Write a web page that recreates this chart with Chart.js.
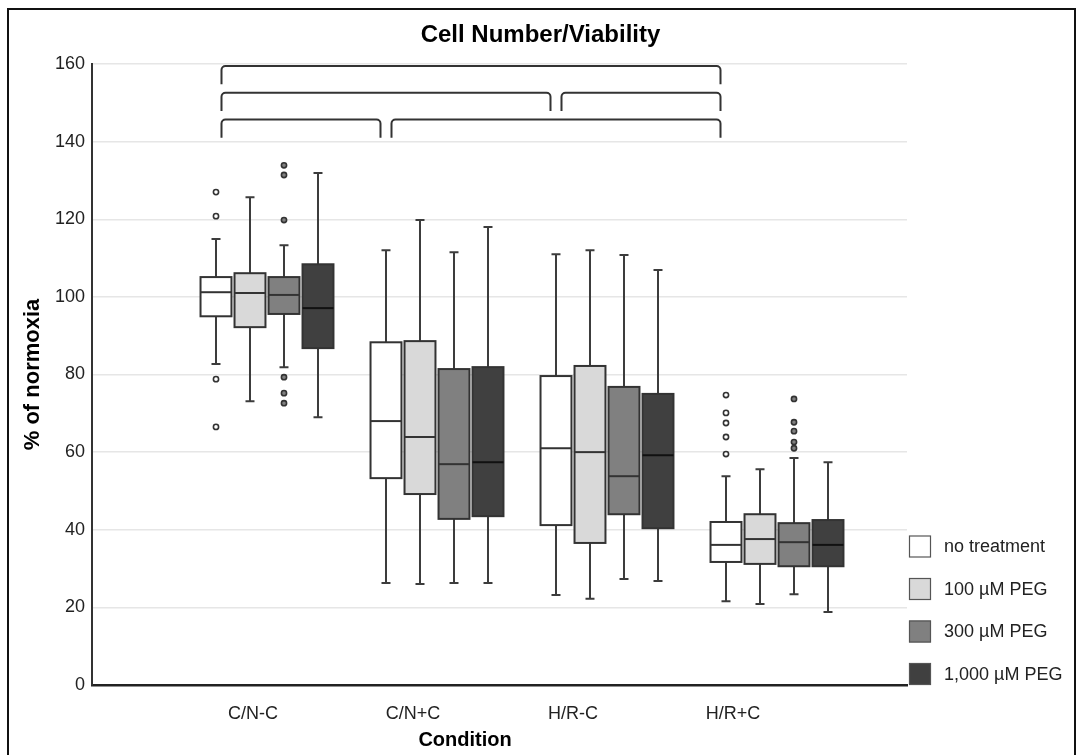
<!DOCTYPE html>
<html lang="en">
<head>
<meta charset="utf-8"/>
<title>Cell Number/Viability</title>
<script src="https://cdn.jsdelivr.net/npm/chart.js"></script>
<style>
  body { margin: 0; background: #fff; font-family: 'Liberation Sans', Arial, sans-serif; }
  .frame { position: absolute; left: 7px; top: 8px; width: 1065px; height: 760px; border: 2px solid #111; }
  #wrap { position: absolute; left: 0; top: 0; width: 1081px; height: 755px; }
</style>
</head>
<body>
<div class="frame"></div>
<div id="wrap"><canvas id="chart"></canvas></div>
<script>
const groups = ['C/N-C', 'C/N+C', 'H/R-C', 'H/R+C'];
const series = ['no treatment', '100 µM PEG', '300 µM PEG', '1,000 µM PEG'];
const fills = ['#ffffff', '#d9d9d9', '#808080', '#404040'];

// [series][group]
const whiskerLow = [
  [82.7, 26.3, 23.2, 21.6],
  [73.1, 26.0, 22.2, 20.9],
  [81.9, 26.3, 27.3, 23.4],
  [69.0, 26.3, 26.8, 18.8]
];
const q1 = [
  [95.0, 53.3, 41.2, 31.7],
  [92.2, 49.2, 36.6, 31.2],
  [95.6, 42.8, 44.0, 30.6],
  [86.8, 43.5, 40.4, 30.6]
];
const median = [
  [101.2, 68.0, 61.0, 36.1],
  [101.0, 63.9, 60.0, 37.6],
  [100.5, 56.9, 53.8, 36.8],
  [97.1, 57.4, 59.2, 36.1]
];
const q3 = [
  [105.1, 88.3, 79.6, 42.0],
  [106.1, 88.6, 82.2, 44.0],
  [105.1, 81.4, 76.8, 41.7],
  [108.4, 81.9, 75.0, 42.5]
];
const whiskerHigh = [
  [114.9, 112.0, 111.0, 53.8],
  [125.7, 119.8, 112.0, 55.6],
  [113.3, 111.5, 110.8, 58.5],
  [131.9, 118.0, 106.9, 57.4]
];
// outliers: [group index, value]
const outliers = [
  [[0, 127.0], [0, 120.8], [0, 78.8], [0, 66.5], [3, 74.7], [3, 70.1], [3, 67.5], [3, 63.9], [3, 59.5]],
  [],
  [[0, 133.9], [0, 131.4], [0, 119.8], [0, 79.3], [0, 75.2], [0, 72.6], [3, 73.7], [3, 67.7], [3, 65.4], [3, 62.6], [3, 61.0]],
  []
];
// significance brackets between "no treatment" boxes: [from group, to group, row]
const brackets = [[0, 3, 0], [0, 2, 1], [2, 3, 1], [0, 1, 2], [1, 3, 2]];
const bracketTops = [159.5, 152.6, 145.7];
const bracketDrop = 4.7;

// category labels sit a little left of the box clusters in the original
const labelAt = [0.918, 1.859, 2.800, 3.741];
const xTitleAt = 2.165;

const slot = 0.2;      // distance between boxes within a group
const boxHalf = 0.091; // half box width
const posOf = (g, s) => g + 1 + (s - 1.5) * slot;
const FONT = '"Liberation Sans", Arial, sans-serif';

const boxPlot = {
  id: 'boxPlot',
  beforeDatasetsDraw(chart) {
    const {ctx, scales: {x, y}} = chart;
    ctx.save();
    series.forEach((name, s) => {
      groups.forEach((gName, g) => {
        const cx = x.getPixelForValue(posOf(g, s));
        const half = x.getPixelForValue(posOf(g, s) + boxHalf) - cx;
        const cap = 4.5;
        const yLo = y.getPixelForValue(whiskerLow[s][g]);
        const yHi = y.getPixelForValue(whiskerHigh[s][g]);
        const yQ1 = y.getPixelForValue(q1[s][g]);
        const yQ3 = y.getPixelForValue(q3[s][g]);
        const yMed = y.getPixelForValue(median[s][g]);
        ctx.strokeStyle = '#3c3c3c';
        ctx.lineWidth = 2;
        ctx.beginPath();
        ctx.moveTo(cx, yHi); ctx.lineTo(cx, yQ3);
        ctx.moveTo(cx, yQ1); ctx.lineTo(cx, yLo);
        ctx.moveTo(cx - cap, yHi); ctx.lineTo(cx + cap, yHi);
        ctx.moveTo(cx - cap, yLo); ctx.lineTo(cx + cap, yLo);
        ctx.stroke();
        ctx.fillStyle = fills[s];
        ctx.fillRect(cx - half, yQ3, half * 2, yQ1 - yQ3);
        ctx.strokeStyle = '#333';
        ctx.strokeRect(cx - half, yQ3, half * 2, yQ1 - yQ3);
        ctx.strokeStyle = s === 3 ? '#111' : '#333';
        ctx.beginPath();
        ctx.moveTo(cx - half, yMed); ctx.lineTo(cx + half, yMed);
        ctx.stroke();
      });
    });

    // brackets
    ctx.strokeStyle = '#333';
    ctx.lineWidth = 2;
    const r = 4, inset = 5.5;
    brackets.forEach(([a, b, row]) => {
      const x0 = x.getPixelForValue(posOf(a, 0)) + inset;
      const x1 = x.getPixelForValue(posOf(b, 0)) - inset;
      const yt = y.getPixelForValue(bracketTops[row]);
      const yb = y.getPixelForValue(bracketTops[row] - bracketDrop);
      ctx.beginPath();
      ctx.moveTo(x0, yb);
      ctx.arcTo(x0, yt, x1, yt, r);
      ctx.arcTo(x1, yt, x1, yb, r);
      ctx.lineTo(x1, yb);
      ctx.stroke();
    });
    ctx.restore();
  },
  afterDraw(chart) {
    const {ctx, chartArea, scales: {x}} = chart;
    ctx.save();
    // x axis title
    ctx.font = 'bold 20px ' + FONT;
    ctx.fillStyle = '#000';
    ctx.textAlign = 'center';
    ctx.textBaseline = 'middle';
    ctx.fillText('Condition', x.getPixelForValue(xTitleAt), chartArea.bottom + 55);

    // legend, bottom-aligned to the plot area at its right
    ctx.font = '18px ' + FONT;
    ctx.textAlign = 'left';
    series.forEach((name, s) => {
      const bx = chartArea.right + 2;
      const by = chartArea.bottom - 22 - (series.length - 1 - s) * 42.5;
      ctx.fillStyle = fills[s];
      ctx.fillRect(bx, by, 22, 22);
      ctx.strokeStyle = '#555';
      ctx.lineWidth = 1.2;
      ctx.strokeRect(bx + 0.5, by + 0.5, 21, 21);
      ctx.fillStyle = '#222';
      ctx.fillText(name, bx + 35, by + 12);
    });
    ctx.restore();
  }
};

const datasets = series.map((name, s) => ({
  label: name,
  data: outliers[s].map(([g, v]) => ({x: posOf(g, s), y: v})),
  pointRadius: 2.6,
  pointBorderWidth: 1.6,
  pointBorderColor: '#333',
  pointBackgroundColor: fills[s]
}));

new Chart(document.getElementById('chart'), {
  type: 'scatter',
  data: { datasets },
  options: {
    responsive: true,
    maintainAspectRatio: false,
    animation: false,
    layout: { padding: 0 },
    plugins: {
      legend: { display: false },
      tooltip: { enabled: false },
      title: {
        display: true,
        text: 'Cell Number/Viability',
        color: '#000',
        font: { family: FONT, size: 24, weight: 'bold' },
        padding: { top: 20.6, bottom: 14.6 }
      }
    },
    scales: {
      x: {
        type: 'linear',
        min: -0.0294,
        max: 4.7647,
        afterBuildTicks: (scale) => { scale.ticks = labelAt.map(v => ({value: v})); },
        afterFit: (scale) => { scale.height = 70; },
        grid: { display: false, drawTicks: false },
        border: { color: '#222', width: 2.5 },
        ticks: {
          padding: 18,
          color: '#222',
          font: { family: FONT, size: 18 },
          callback: (v, i) => groups[i]
        }
      },
      y: {
        min: 0,
        max: 160,
        afterFit: (scale) => { scale.width = 92; },
        grid: { color: '#e6e6e6', lineWidth: 1.5, drawTicks: false },
        border: { color: '#333', width: 2 },
        ticks: {
          stepSize: 20,
          padding: 7,
          color: '#222',
          font: { family: FONT, size: 18 }
        },
        title: {
          display: true,
          text: '% of normoxia',
          color: '#000',
          font: { family: FONT, size: 22, weight: 'bold' },
          padding: { top: 20, bottom: 0 }
        }
      },
      // empty strip on the right that holds the legend
      side: {
        position: 'right',
        grid: { display: false, drawTicks: false },
        border: { display: false },
        ticks: { display: false },
        afterFit: (scale) => { scale.width = 174; }
      }
    }
  },
  plugins: [boxPlot]
});
</script>
</body>
</html>
